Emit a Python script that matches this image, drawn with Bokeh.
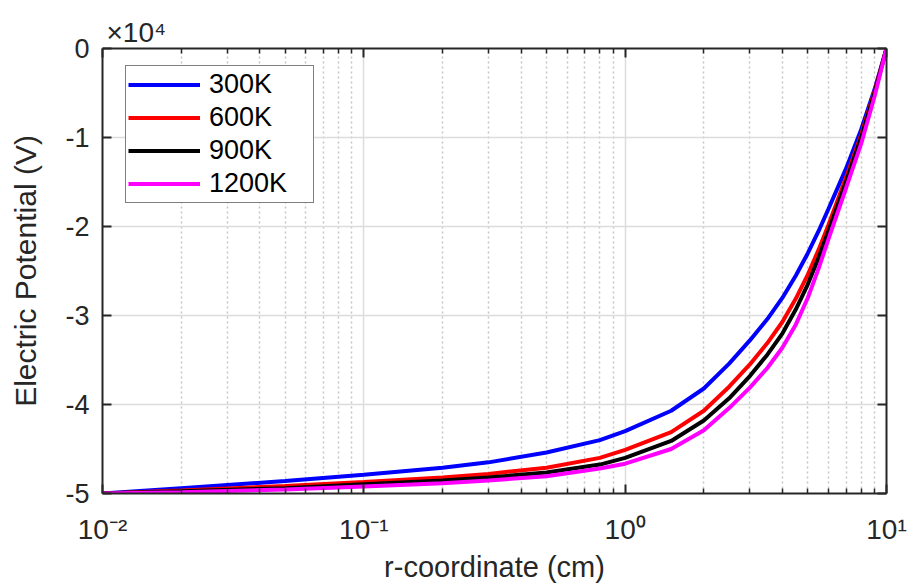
from bokeh.plotting import figure
from bokeh.models import (Range1d, FixedTicker, LogAxis, LinearAxis, Title,
                          Legend, LegendItem)
from bokeh.embed import file_html
from bokeh.resources import INLINE

# radial position (cm)
r_cm = [0.01, 0.02, 0.05, 0.1, 0.2, 0.3, 0.5, 0.8, 1.0, 1.5, 2.0, 2.5,
        3.0, 3.5, 4.0, 4.5, 5.0, 5.5, 6.0, 7.0, 8.0, 9.0, 10.0]

# electric potential, in units of 1e4 V
v_300k = [-5.0, -4.94, -4.86, -4.79, -4.71, -4.65, -4.54, -4.40, -4.30, -4.07,
          -3.82, -3.54, -3.28, -3.04, -2.80, -2.55, -2.30, -2.05, -1.80,
          -1.35, -0.91, -0.46, 0.0]
v_600k = [-5.0, -4.965, -4.915, -4.87, -4.82, -4.78, -4.71, -4.60, -4.51, -4.31,
          -4.07, -3.80, -3.55, -3.31, -3.07, -2.81, -2.54, -2.26, -1.98,
          -1.45, -0.97, -0.48, 0.0]
v_900k = [-5.0, -4.975, -4.94, -4.895, -4.855, -4.82, -4.765, -4.675, -4.60, -4.41,
          -4.18, -3.93, -3.68, -3.44, -3.20, -2.93, -2.65, -2.35, -2.05,
          -1.50, -1.00, -0.50, 0.0]
v_1200k = [-5.0, -4.985, -4.955, -4.92, -4.885, -4.855, -4.805, -4.72, -4.665, -4.50,
           -4.29, -4.04, -3.81, -3.59, -3.36, -3.10, -2.80, -2.47, -2.14,
           -1.57, -1.07, -0.54, 0.0]

series_names = ["300K", "600K", "900K", "1200K"]
series_values = [v_300k, v_600k, v_900k, v_1200k]
series_colors = ["#0000ff", "#ff0000", "#000000", "#ff00ff"]

x_major = [0.01, 0.1, 1.0, 10.0]
x_labels = ["10\u207b\u00b2", "10\u207b\u00b9", "10\u2070", "10\u00b9"]
y_major = [-5, -4, -3, -2, -1, 0]

FONT = "Liberation Sans"
INK = "#262626"

p = figure(width=911, height=585, x_axis_type="log",
           x_range=Range1d(0.01, 10.0), y_range=Range1d(-5, 0),
           min_border_left=102, min_border_right=25,
           min_border_top=48, min_border_bottom=92,
           output_backend="svg", toolbar_location=None,
           background_fill_color="white", border_fill_color="white")
p.outline_line_color = None

x_minor = [m * 10.0 ** e for e in (-2, -1, 0) for m in range(2, 10)]
xticker = FixedTicker(ticks=x_major, minor_ticks=x_minor)
yticker = FixedTicker(ticks=y_major)


def style_axis(ax, minor=True):
    ax.axis_line_color = INK
    ax.axis_line_width = 2
    ax.major_tick_line_color = INK
    ax.major_tick_line_width = 2
    ax.major_tick_in = 9
    ax.major_tick_out = 0
    if minor:
        ax.minor_tick_line_color = INK
        ax.minor_tick_line_width = 1.5
        ax.minor_tick_in = 5
        ax.minor_tick_out = 0
    else:
        ax.minor_tick_line_color = None


# bottom axis: powers of ten
xa = p.xaxis[0]
xa.ticker = xticker
style_axis(xa)
xa.major_label_overrides = dict(zip(x_major, x_labels))
xa.major_label_text_font = FONT
xa.major_label_text_font_size = "28px"
xa.major_label_text_color = INK
xa.major_label_standoff = 20
xa.axis_label = "r-coordinate (cm)"
xa.axis_label_text_font = FONT
xa.axis_label_text_font_size = "29px"
xa.axis_label_text_font_style = "normal"
xa.axis_label_text_color = INK
xa.axis_label_standoff = 3

# left axis
ya = p.yaxis[0]
ya.ticker = yticker
style_axis(ya, minor=False)
ya.major_label_overrides = {t: str(t) for t in y_major}
ya.major_label_text_font = FONT
ya.major_label_text_font_size = "27px"
ya.major_label_text_color = INK
ya.major_label_standoff = 13
ya.axis_label = "Electric Potential (V)"
ya.axis_label_text_font = FONT
ya.axis_label_text_font_size = "30px"
ya.axis_label_text_font_style = "normal"
ya.axis_label_text_color = INK
ya.axis_label_standoff = 20

# box: top and right axes carry ticks only
top = LogAxis(ticker=xticker)
style_axis(top)
top.major_label_overrides = {t: "" for t in x_major}
top.major_label_text_font_size = "1px"
top.major_label_standoff = 0
p.add_layout(top, "above")

right = LinearAxis(ticker=yticker)
style_axis(right, minor=False)
right.major_label_overrides = {t: "" for t in y_major}
right.major_label_text_font_size = "1px"
right.major_label_standoff = 0
p.add_layout(right, "right")

# exponent multiplier of the y axis
p.add_layout(Title(text="\u00d710\u2074", align="left", offset=4,
                   text_font=FONT, text_font_size="28px",
                   text_font_style="normal", text_color=INK,
                   standoff=2), "above")

# grid
p.xgrid.ticker = xticker
p.ygrid.ticker = yticker
p.xgrid.grid_line_color = "#dcdcdc"
p.ygrid.grid_line_color = "#dcdcdc"
p.xgrid.grid_line_width = 1.5
p.ygrid.grid_line_width = 1.5
p.xgrid.minor_grid_line_color = "#c4c4c4"
p.xgrid.minor_grid_line_dash = "2 3"
p.xgrid.minor_grid_line_width = 1.5

# curves
items = []
for name, vals, col in zip(series_names, series_values, series_colors):
    rr = p.line(r_cm, vals, line_color=col, line_width=4)
    items.append(LegendItem(label=name, renderers=[rr]))

legend = Legend(items=items, location=(23, 290))
legend.label_text_font = FONT
legend.label_text_font_size = "27px"
legend.label_text_color = "#000000"
legend.glyph_width = 72
legend.glyph_height = 33
legend.label_height = 33
legend.label_width = 102
legend.label_standoff = 9
legend.spacing = 0
legend.padding = 2
legend.margin = 0
legend.border_line_color = "#000000"
legend.border_line_width = 1.5
legend.background_fill_color = "white"
legend.background_fill_alpha = 1.0
p.add_layout(legend, "center")

open("out.html", "w").write(file_html(p, INLINE))
